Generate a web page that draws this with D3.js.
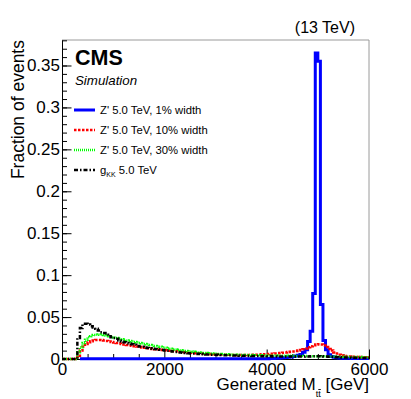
<!DOCTYPE html>
<meta charset="utf-8">
<style>

  body {
    margin: 0;
    background: #fff;
  }

  svg {
    font-family: "Liberation Sans", Arial, Helvetica, sans-serif;
  }

  .axis path,
  .axis line {
    fill: none;
    stroke: #000;
    stroke-width: 1px;
  }

  .axis text {
    font-size: 17px;
    fill: #000;
  }

  .hist {
    fill: none;
    stroke-linejoin: miter;
    stroke-linecap: butt;
  }

</style>
<body>
<script src="https://cdn.jsdelivr.net/npm/d3@7"></script>
<script>

  // 50 GeV bins from 0 to 6000 GeV, 10 bins per row.
  var binWidth = 50;

  var zp1 = [
    null, null, null, null, null, null, null, 0.0002, 0.0002, 0.0002,
    0.0002, 0.0002, 0.0002, 0.0002, 0.0002, 0.0002, 0.0002, 0.0002, 0.0002, 0.0002,
    0.0002, 0.0002, 0.0002, 0.0002, 0.0002, 0.0002, 0.0002, 0.0002, 0.0002, 0.0002,
    0.0002, 0.0002, 0.0002, 0.0002, 0.0002, 0.0002, 0.0002, 0.0002, 0.0002, 0.0002,
    0.0002, 0.0002, 0.0002, 0.0002, 0.0002, 0.0002, 0.0002, 0.0002, 0.0002, 0.0002,
    0.0002, 0.0002, 0.0002, 0.0002, 0.0002, 0.0002, 0.0002, 0.0002, 0.0002, 0.0002,
    0.0002, 0.0002, 0.0002, 0.0002, 0.0002, 0.0002, 0.0002, 0.0002, 0.0002, 0.0002,
    0.0002, 0.0002, 0.0002, 0.0003, 0.0003, 0.0003, 0.0003, 0.0003, 0.0003, 0.0003,
    0.0004, 0.0005, 0.0006, 0.0008, 0.001, 0.0012, 0.0015, 0.0018, 0.0021, 0.0025,
    0.003, 0.0035, 0.0045, 0.0055, 0.008, 0.011, 0.021, 0.033, 0.078, 0.365,
    0.355, 0.065, 0.022, 0.011, 0.005, 0.003, 0.002, 0.0015, 0.0012, 0.001,
    0.0009, 0.0008, 0.0008, 0.0007, 0.0007, 0.0006, 0.0006, 0.0005, 0.0005, 0.0005
  ];

  var zp10 = [
    0, 0, 0, 0, 0, 0, 0.004, 0.01, 0.0145, 0.018,
    0.02, 0.0212, 0.022, 0.0226, 0.0228, 0.0226, 0.0222, 0.0216, 0.021, 0.0203,
    0.0196, 0.019, 0.0184, 0.0178, 0.0173, 0.0168, 0.0163, 0.0158, 0.0153, 0.0148,
    0.0143, 0.0138, 0.0133, 0.0128, 0.0124, 0.012, 0.0116, 0.0112, 0.0109, 0.0106,
    0.0103, 0.01, 0.0097, 0.0094, 0.0091, 0.0088, 0.0085, 0.0082, 0.0079, 0.0077,
    0.0074, 0.0072, 0.007, 0.0068, 0.0066, 0.0064, 0.0062, 0.006, 0.0058, 0.0057,
    0.0055, 0.0054, 0.0053, 0.0052, 0.0051, 0.005, 0.0049, 0.0049, 0.0048, 0.0048,
    0.0048, 0.0048, 0.0049, 0.0049, 0.005, 0.0051, 0.0052, 0.0054, 0.0056, 0.0058,
    0.006, 0.0062, 0.0064, 0.0066, 0.0069, 0.0072, 0.0075, 0.0078, 0.0082, 0.0086,
    0.009, 0.0095, 0.01, 0.0106, 0.0115, 0.0125, 0.014, 0.0152, 0.0163, 0.0172,
    0.0176, 0.0172, 0.016, 0.0142, 0.012, 0.0102, 0.0078, 0.0065, 0.0052, 0.0042,
    0.0036, 0.0032, 0.003, 0.0028, 0.0026, 0.0024, 0.0023, 0.0022, 0.0021, 0.002
  ];

  var zp30 = [
    0, 0, 0, 0, 0, 0, 0.008, 0.014, 0.019, 0.023,
    0.026, 0.027, 0.0285, 0.029, 0.0292, 0.029, 0.0285, 0.028, 0.0272, 0.0265,
    0.0257, 0.025, 0.0242, 0.0235, 0.0228, 0.0222, 0.0215, 0.0208, 0.0202, 0.0196,
    0.019, 0.0184, 0.0178, 0.0172, 0.0166, 0.016, 0.0155, 0.015, 0.0145, 0.014,
    0.0135, 0.0129, 0.0123, 0.0117, 0.0112, 0.0107, 0.0103, 0.0099, 0.0095, 0.0091,
    0.0088, 0.0085, 0.0082, 0.0079, 0.0076, 0.0073, 0.0071, 0.0069, 0.0067, 0.0065,
    0.0063, 0.0061, 0.0059, 0.0057, 0.0056, 0.0054, 0.0053, 0.0052, 0.0051, 0.005,
    0.0049, 0.0048, 0.0047, 0.0047, 0.0046, 0.0045, 0.0045, 0.0044, 0.0043, 0.0043,
    0.0042, 0.0042, 0.0041, 0.0041, 0.004, 0.004, 0.0039, 0.0039, 0.0038, 0.0038,
    0.0037, 0.0037, 0.0036, 0.0036, 0.0035, 0.0035, 0.0034, 0.0034, 0.0034, 0.0033,
    0.0033, 0.0032, 0.0032, 0.0031, 0.003, 0.003, 0.0029, 0.0028, 0.0028, 0.0027,
    0.0026, 0.0026, 0.0025, 0.0024, 0.0024, 0.0023, 0.0023, 0.0022, 0.0022, 0.0021
  ];

  var gkk = [
    0, 0, 0, 0, 0, 0, 0.025, 0.037, 0.042, 0.042,
    0.041, 0.039, 0.0375, 0.036, 0.034, 0.032, 0.031, 0.029, 0.027, 0.026,
    0.025, 0.024, 0.022, 0.021, 0.02, 0.019, 0.0185, 0.0175, 0.017, 0.0155,
    0.015, 0.0145, 0.0138, 0.0132, 0.0127, 0.0122, 0.012, 0.0115, 0.011, 0.0107,
    0.0102, 0.0097, 0.0092, 0.0088, 0.0084, 0.008, 0.0077, 0.0074, 0.0071, 0.0069,
    0.0067, 0.0065, 0.0063, 0.0061, 0.0059, 0.0057, 0.0055, 0.0054, 0.0052, 0.0051,
    0.005, 0.0048, 0.0047, 0.0046, 0.0045, 0.0044, 0.0043, 0.0042, 0.0041, 0.004,
    0.0039, 0.0038, 0.0037, 0.0037, 0.0036, 0.0035, 0.0035, 0.0034, 0.0033, 0.0033,
    0.0032, 0.0032, 0.0031, 0.0031, 0.003, 0.003, 0.003, 0.0029, 0.0029, 0.0029,
    0.0029, 0.0029, 0.003, 0.003, 0.003, 0.0031, 0.0031, 0.0032, 0.0032, 0.0033,
    0.0033, 0.0032, 0.0031, 0.003, 0.0028, 0.0026, 0.0024, 0.0022, 0.002, 0.0019,
    0.0018, 0.0017, 0.0016, 0.0015, 0.0015, 0.0014, 0.0013, 0.0013, 0.0012, 0.0012
  ];

  var xTicks = [0, 2000, 4000, 6000];
  var xTickLabels = ["0", "2000", "4000", "6000"];
  var xMinorTicks = [500, 1000, 1500, 2500, 3000, 3500, 4500, 5000, 5500];
  var yTicks = [0, 0.05, 0.1, 0.15, 0.2, 0.25, 0.3, 0.35];
  var yTickLabels = ["0", "0.05", "0.1", "0.15", "0.2", "0.25", "0.3", "0.35"];

  var series = [
    {name: "Z' 5.0 TeV, 1% width", values: zp1, color: "#0000ff", width: 3, dash: null},
    {name: "Z' 5.0 TeV, 10% width", values: zp10, color: "#ff0000", width: 2.5, dash: "2.5,1.5"},
    {name: "Z' 5.0 TeV, 30% width", values: zp30, color: "#00ff00", width: 2.5, dash: "1,1"},
    {name: "gKK", values: gkk, color: "#000000", width: 2.5, dash: "4,2,1.5,2"}
  ];

  var W = 411, H = 399;
  var margin = {top: 40, right: 42, bottom: 40, left: 62};
  var width = W - margin.left - margin.right;
  var height = H - margin.top - margin.bottom;

  var x = d3.scaleLinear()
    .domain([0, 6000])
    .range([0, width]);

  var y = d3.scaleLinear()
    .domain([0, 0.3804])
    .range([height, 0]);

  var svg = d3.select("body").append("svg")
    .attr("width", W)
    .attr("height", H);

  var g = svg.append("g")
    .attr("transform", "translate(" + margin.left + "," + margin.top + ")");

  // Grey frame on top and right.
  g.append("path")
    .attr("d", "M0,0H" + width + "V" + height)
    .attr("fill", "none")
    .attr("stroke", "#9a9a9a")
    .attr("stroke-width", 1);

  // Minor ticks first, then major axes.
  g.append("g")
    .attr("class", "axis")
    .call(d3.axisLeft(y).tickValues(d3.range(0, 0.381, 0.01)).tickSize(-5).tickFormat(""))
    .call(function(s) { s.select(".domain").remove(); });

  g.append("g")
    .attr("class", "axis")
    .attr("transform", "translate(0," + height + ")")
    .call(d3.axisBottom(x).tickValues(xMinorTicks).tickSize(-5).tickFormat(""))
    .call(function(s) { s.select(".domain").remove(); });

  g.append("g")
    .attr("class", "axis axis--y")
    .call(d3.axisLeft(y)
      .tickValues(yTicks)
      .tickFormat(function(d, i) { return yTickLabels[i]; })
      .tickSize(-9.5)
      .tickSizeOuter(0)
      .tickPadding(2));

  g.append("g")
    .attr("class", "axis axis--x")
    .attr("transform", "translate(0," + height + ")")
    .call(d3.axisBottom(x)
      .tickValues(xTicks)
      .tickFormat(function(d, i) { return xTickLabels[i]; })
      .tickSize(-9.5)
      .tickSizeOuter(0)
      .tickPadding(4));

  // Histogram outlines as steps over the bins.
  function steps(values) {
    var pts = [];
    values.forEach(function(v, i) {
      if (v === null) return;
      pts.push([i * binWidth, v], [(i + 1) * binWidth, v]);
    });
    return pts;
  }

  var line = d3.line()
    .x(function(d) { return x(d[0]); })
    .y(function(d) { return y(d[1]); });

  g.selectAll(".hist")
    .data(series)
    .enter().append("path")
    .attr("class", "hist")
    .attr("d", function(d) { return line(steps(d.values)); })
    .attr("stroke", function(d) { return d.color; })
    .attr("stroke-width", function(d) { return d.width; })
    .attr("stroke-dasharray", function(d) { return d.dash; });

  // Legend.
  var legend = svg.selectAll(".legend")
    .data(series)
    .enter().append("g")
    .attr("class", "legend")
    .attr("transform", function(d, i) { return "translate(74," + (110 + i * 20) + ")"; });

  legend.append("line")
    .attr("x1", 0)
    .attr("x2", 21)
    .attr("stroke", function(d) { return d.color; })
    .attr("stroke-width", function(d) { return d.width; })
    .attr("stroke-dasharray", function(d) { return d.dash; });

  legend.each(function(d, i) {
    var t = d3.select(this).append("text")
      .attr("x", 26)
      .attr("y", 4)
      .attr("font-size", 11.3);
    if (i < 3) {
      t.text(d.name);
    } else {
      t.append("tspan").text("g");
      t.append("tspan").attr("font-size", 7).attr("dy", 3).text("KK");
      t.append("tspan").attr("dy", -3).text(" 5.0 TeV");
    }
  });

  // Labels.
  svg.append("text")
    .attr("x", 75)
    .attr("y", 65)
    .attr("font-size", 21.5)
    .attr("font-weight", "bold")
    .text("CMS");

  svg.append("text")
    .attr("x", 75)
    .attr("y", 85)
    .attr("font-size", 13.3)
    .attr("font-style", "italic")
    .text("Simulation");

  svg.append("text")
    .attr("x", 355)
    .attr("y", 33)
    .attr("font-size", 16)
    .attr("text-anchor", "end")
    .text("(13 TeV)");

  svg.append("text")
    .attr("transform", "translate(24," + margin.top + ") rotate(-90)")
    .attr("font-size", 17.5)
    .attr("text-anchor", "end")
    .text("Fraction of events");

  var xt = svg.append("text")
    .attr("x", margin.left + width)
    .attr("y", 390)
    .attr("font-size", 17)
    .attr("text-anchor", "end");
  xt.append("tspan").text("Generated M");
  xt.append("tspan").attr("font-size", 9).attr("dy", 7).text("t");
  xt.append("tspan").attr("font-size", 9).style("text-decoration", "overline").text("t");
  xt.append("tspan").attr("dy", -7).text(" [GeV]");

</script>
